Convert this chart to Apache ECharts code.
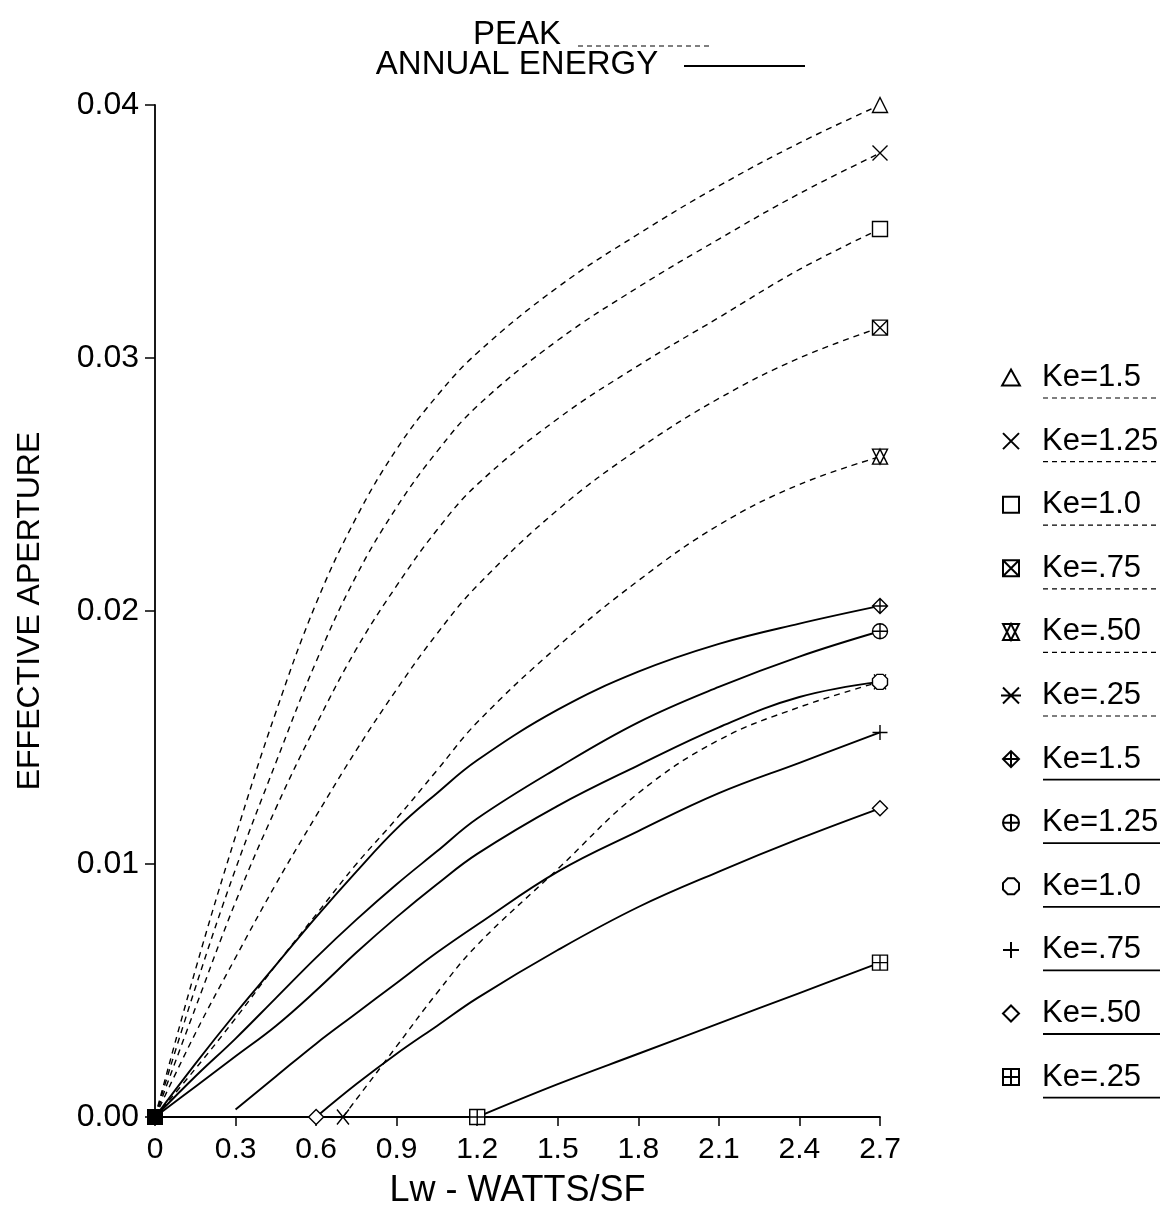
<!DOCTYPE html>
<html>
<head>
<meta charset="utf-8">
<title>Effective aperture vs Lw</title>
<script src="https://cdn.jsdelivr.net/npm/echarts@6/dist/echarts.min.js"></script>
<style>
  html, body { margin: 0; padding: 0; background: #fff; }
  #chart { width: 1176px; height: 1206px; }
</style>
</head>
<body>
<div id="chart"></div>
<script>
// labels shared by both families of curves
var keLabels = ['Ke=1.5', 'Ke=1.25', 'Ke=1.0', 'Ke=.75', 'Ke=.50', 'Ke=.25'];

// PEAK curves (dashed)
var peakX = [0, 0.15, 0.3, 0.45, 0.6, 0.75, 0.9, 1.05, 1.2, 1.5, 1.8, 2.1, 2.4, 2.7];
var peak150 = [0, 0.0058, 0.0111, 0.0160, 0.0203, 0.0237, 0.0264, 0.0285, 0.0302, 0.0328, 0.0349, 0.0368, 0.0385, 0.0400];
var peak125 = [0, 0.0051, 0.0098, 0.0140, 0.0180, 0.0214, 0.0241, 0.0263, 0.0281, 0.0307, 0.0328, 0.0347, 0.0365, 0.0381];
var peak100 = [0, 0.0043, 0.0085, 0.0122, 0.0155, 0.0185, 0.0210, 0.0232, 0.0250, 0.0276, 0.0297, 0.0316, 0.0335, 0.0351];
var peak075 = [0, 0.0033, 0.0063, 0.0092, 0.0119, 0.0145, 0.0169, 0.0191, 0.0210, 0.0240, 0.0264, 0.0284, 0.0300, 0.0312];
var peak050 = [0, 0.0019, 0.0039, 0.0060, 0.0080, 0.0100, 0.0118, 0.0137, 0.0156, 0.0186, 0.0212, 0.0234, 0.0250, 0.0261];
var peak025X = [0.7, 0.75, 0.9, 1.05, 1.2, 1.5, 1.8, 2.1, 2.4, 2.7];
var peak025 = [0, 0.0007, 0.0028, 0.0049, 0.0068, 0.0098, 0.0128, 0.0149, 0.0162, 0.0172];

// ANNUAL ENERGY curves (solid)
var annualX = [0, 0.15, 0.3, 0.45, 0.6, 0.75, 0.9, 1.05, 1.2, 1.5, 1.8, 2.1, 2.4, 2.7];
var annual150 = [0, 0.0021, 0.0041, 0.0060, 0.0079, 0.0097, 0.0114, 0.0128, 0.0141, 0.0161, 0.0176, 0.0187, 0.0195, 0.0202];
var annual125 = [0, 0.0016, 0.0031, 0.0047, 0.0063, 0.0078, 0.0092, 0.0105, 0.0118, 0.0138, 0.0156, 0.0170, 0.0182, 0.0192];
var annual100 = [0, 0.0012, 0.0024, 0.0036, 0.0050, 0.0065, 0.0079, 0.0092, 0.0104, 0.0123, 0.0139, 0.0154, 0.0166, 0.0172];
var annual075X = [0.3, 0.45, 0.6, 0.75, 0.9, 1.05, 1.2, 1.5, 1.8, 2.1, 2.4, 2.7];
var annual075 = [0.0003, 0.0016, 0.0029, 0.0041, 0.0053, 0.0065, 0.0076, 0.0097, 0.0113, 0.0128, 0.0140, 0.0152];
var annual050X = [0.6, 0.75, 0.9, 1.05, 1.2, 1.5, 1.8, 2.1, 2.4, 2.7];
var annual050 = [0, 0.0013, 0.0025, 0.0036, 0.0047, 0.0066, 0.0083, 0.0097, 0.0110, 0.0122];
var annual025X = [1.2, 1.5, 1.8, 2.1, 2.4, 2.7];
var annual025 = [0, 0.0013, 0.0025, 0.0037, 0.0049, 0.0061];

// marker glyphs
var peakMarks = [
  'path://M5,0L10,9L0,9Z',
  'path://M0,0L10,10M10,0L0,10',
  'path://M0,0H10V10H0Z',
  'path://M0,0H10V10H0ZM0,0L10,10M10,0L0,10',
  'path://M5,0L10,10L0,10ZM0,0H10L5,10Z',
  'path://M0,5H10M1,1L9,9M9,1L1,9'
];
var annualMarks = [
  'path://M5,0L10,5L5,10L0,5ZM5,0V10M0,5H10',
  'path://M0,5A5,5 0 1 1 10,5A5,5 0 1 1 0,5ZM5,0V10M0,5H10',
  'path://M3,0H7L10,3V7L7,10H3L0,7V3Z',
  'path://M5,0V10M0,5H10',
  'path://M5,0L10,5L5,10L0,5Z',
  'path://M0,0H10V10H0ZM5,0V10M0,5H10'
];

var peakSets = [[peakX, peak150], [peakX, peak125], [peakX, peak100], [peakX, peak075], [peakX, peak050], [peak025X, peak025]];
var annualSets = [[annualX, annual150], [annualX, annual125], [annualX, annual100], [annual075X, annual075], [annual050X, annual050], [annual025X, annual025]];

function makeData (xs, ys, mark) {
  var last = xs.length - 1;
  return xs.map(function (x, i) {
    var item = { value: [x, ys[i]], symbol: 'none' };
    if (i === 0 && x === 0) {
      // many markers stacked on the origin
      item.symbol = 'rect';
      item.symbolSize = 14;
      item.itemStyle = { color: '#000' };
    } else if ((i === 0 && ys[i] === 0) || i === last) {
      item.symbol = mark;
      item.symbolSize = 15;
    }
    return item;
  });
}

function makeSeries (prefix, sets, marks, dashed) {
  return sets.map(function (s, k) {
    return {
      name: prefix + keLabels[k],
      type: 'line',
      smooth: 0.4,
      clip: false,
      data: makeData(s[0], s[1], marks[k]),
      itemStyle: { color: '#fff', borderColor: '#000', borderWidth: 1.4 },
      lineStyle: dashed
        ? { color: '#000', width: 1.4, type: [6, 5] }
        : { color: '#000', width: 1.9 },
      emphasis: { disabled: true }
    };
  });
}

var series = makeSeries('PEAK ', peakSets, peakMarks, true)
  .concat(makeSeries('ANNUAL ', annualSets, annualMarks, false));

var legendData = series.map(function (s, k) {
  return { name: s.name, icon: (k < 6 ? peakMarks[k] : annualMarks[k - 6]) };
});

var font = 'Liberation Sans, Arial, sans-serif';
var legendTop = 357, legendPitch = 63.6, legendFont = 31;

var graphics = [
  { type: 'text', style: { text: 'PEAK', x: 517, y: 35, align: 'center', verticalAlign: 'middle', font: '33px ' + font, fill: '#000' } },
  { type: 'line', shape: { x1: 578, y1: 46, x2: 712, y2: 46 }, style: { stroke: '#000', lineWidth: 1.2, lineDash: [5, 4] } },
  { type: 'text', style: { text: 'ANNUAL ENERGY', x: 517, y: 65, align: 'center', verticalAlign: 'middle', font: '33px ' + font, fill: '#000' } },
  { type: 'line', shape: { x1: 684, y1: 66, x2: 805, y2: 66 }, style: { stroke: '#000', lineWidth: 1.8 } }
];

// underline under each legend label
for (var i = 0; i < 12; i++) {
  var uy = legendTop + 19 + i * legendPitch + 22;
  graphics.push({
    type: 'line',
    shape: { x1: 1043, y1: uy, x2: 1160, y2: uy },
    style: i < 6 ? { stroke: '#000', lineWidth: 1.2, lineDash: [5, 4] } : { stroke: '#000', lineWidth: 1.8 }
  });
}

var chart = echarts.init(document.getElementById('chart'));
chart.setOption({
  backgroundColor: '#fff',
  animation: false,
  textStyle: { fontFamily: font },
  grid: { left: 155, right: 296, top: 105, bottom: 89, outerBoundsMode: 'none', containLabel: false },
  xAxis: {
    type: 'value',
    min: 0,
    max: 2.7,
    interval: 0.3,
    name: 'Lw - WATTS/SF',
    nameLocation: 'middle',
    nameGap: 56,
    nameTextStyle: { fontSize: 36, color: '#000' },
    axisLine: { lineStyle: { color: '#000', width: 1.8 } },
    axisTick: { show: true, length: 9, lineStyle: { color: '#000', width: 1.5 } },
    axisLabel: {
      color: '#000', fontSize: 30, margin: 18,
      formatter: function (v) { return v === 0 ? '0' : v.toFixed(1); }
    },
    splitLine: { show: false }
  },
  yAxis: {
    type: 'value',
    min: 0,
    max: 0.04,
    interval: 0.01,
    name: 'EFFECTIVE APERTURE',
    nameLocation: 'middle',
    nameGap: 109,
    nameTextStyle: { fontSize: 32, color: '#000' },
    axisLine: { show: true, lineStyle: { color: '#000', width: 1.8 } },
    axisTick: { show: true, length: 10, lineStyle: { color: '#000', width: 1.5 } },
    axisLabel: {
      color: '#000', fontSize: 32, margin: 16,
      formatter: function (v) { return v.toFixed(2); }
    },
    splitLine: { show: false }
  },
  legend: {
    orient: 'vertical',
    left: 995,
    top: legendTop,
    itemWidth: 52,
    itemHeight: 16,
    itemGap: legendPitch - legendFont,
    selectedMode: false,
    data: legendData,
    formatter: function (name) { return name.replace(/^.* /, ''); },
    textStyle: { fontSize: legendFont, color: '#000' }
  },
  graphic: graphics,
  series: series
});
</script>
</body>
</html>
